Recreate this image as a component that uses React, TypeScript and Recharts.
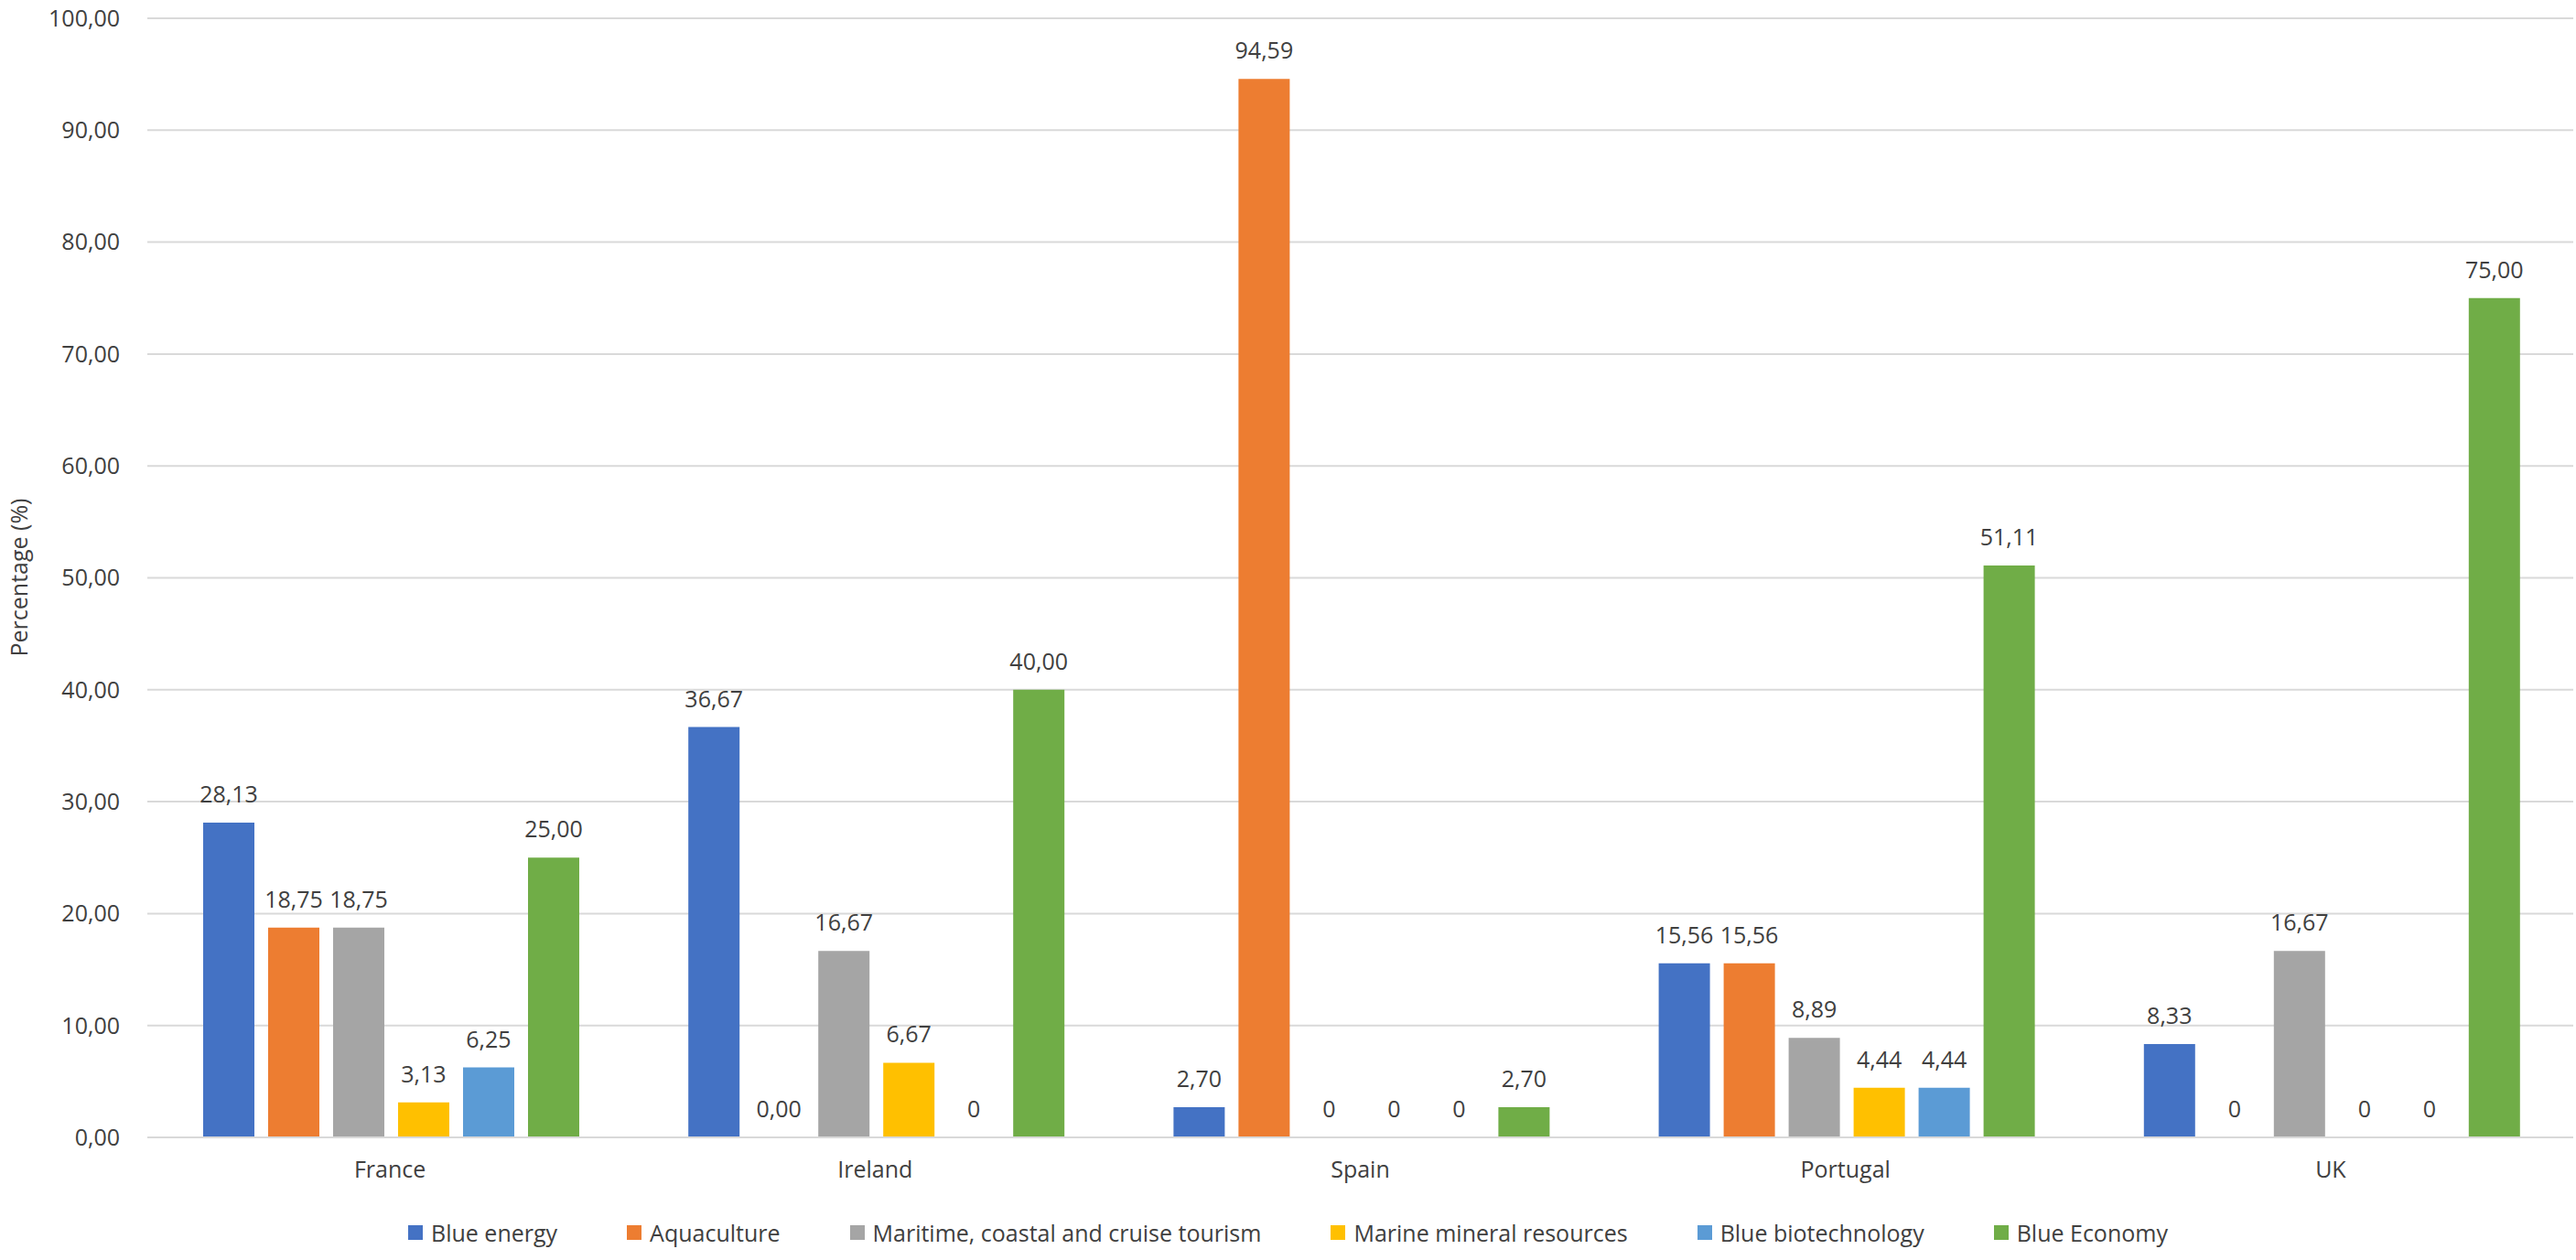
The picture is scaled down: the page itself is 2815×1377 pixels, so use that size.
import React from 'react'
import {
  BarChart,
  Bar,
  XAxis,
  YAxis,
  CartesianGrid,
  Legend,
  LabelList,
} from 'recharts'

const countries = ['France', 'Ireland', 'Spain', 'Portugal', 'UK']

const blueEnergy = [28.13, 36.67, 2.7, 15.56, 8.33]
const aquaculture = [18.75, 0, 94.59, 15.56, 0]
const tourism = [18.75, 16.67, 0, 8.89, 16.67]
const mineral = [3.13, 6.67, 0, 4.44, 0]
const biotech = [6.25, 0, 0, 4.44, 0]
const blueEconomy = [25.0, 40.0, 2.7, 51.11, 75.0]

// labels as printed in the source (some zeros show as "0", one as "0,00")
const blueEnergyLabels = ['28,13', '36,67', '2,70', '15,56', '8,33']
const aquacultureLabels = ['18,75', '0,00', '94,59', '15,56', '0']
const tourismLabels = ['18,75', '16,67', '0', '8,89', '16,67']
const mineralLabels = ['3,13', '6,67', '0', '4,44', '0']
const biotechLabels = ['6,25', '0', '0', '4,44', '0']
const blueEconomyLabels = ['25,00', '40,00', '2,70', '51,11', '75,00']

const yTicks = [0, 10, 20, 30, 40, 50, 60, 70, 80, 90, 100]

const series = [
  { key: 'blueEnergy', name: 'Blue energy', color: '#4472C4', values: blueEnergy, labels: blueEnergyLabels },
  { key: 'aquaculture', name: 'Aquaculture', color: '#ED7D31', values: aquaculture, labels: aquacultureLabels },
  { key: 'tourism', name: 'Maritime, coastal and cruise tourism', color: '#A5A5A5', values: tourism, labels: tourismLabels },
  { key: 'mineral', name: 'Marine mineral resources', color: '#FFC000', values: mineral, labels: mineralLabels },
  { key: 'biotech', name: 'Blue biotechnology', color: '#5B9BD5', values: biotech, labels: biotechLabels },
  { key: 'blueEconomy', name: 'Blue Economy', color: '#70AD47', values: blueEconomy, labels: blueEconomyLabels },
]

const data = countries.map((country, i) => {
  const row: Record<string, string | number> = { country }
  series.forEach((s) => {
    row[s.key] = s.values[i]
    row[s.key + 'Label'] = s.labels[i]
  })
  return row
})

const FONT = '"Open Sans", sans-serif'
const TEXT = '#404040'
const FS = 25

// legend drawn in series order (recharts sorts its payload by name)
const renderLegend = () => (
  <div style={{ display: 'flex', justifyContent: 'center', fontFamily: FONT, fontSize: FS, color: TEXT, lineHeight: '36px' }}>
    {series.map((s, i) => (
      <div key={s.key} style={{ display: 'flex', alignItems: 'center', marginLeft: i === 0 ? 0 : 76 }}>
        <span style={{ width: 16, height: 16, background: s.color, display: 'inline-block', marginRight: 9 }} />
        <span>{s.name}</span>
      </div>
    ))}
  </div>
)

const YLabel = () => (
  <text
    x={20}
    y={631}
    transform="rotate(-90 20 631)"
    textAnchor="middle"
    dominantBaseline="central"
    fill={TEXT}
    fontFamily={FONT}
    fontSize={FS}
  >
    Percentage (%)
  </text>
)

export default function App() {
  return (
    <div style={{ position: 'absolute', left: 0, top: 0, width: 2815, height: 1377, background: '#fff' }}>
      <BarChart
        width={2815}
        height={1377}
        data={data}
        margin={{ top: 20, right: 3, left: 0, bottom: 12 }}
        barCategoryGap={61}
        barGap={15}
      >
        <CartesianGrid vertical={false} stroke="#D9D9D9" strokeWidth={2} />
        <XAxis
          dataKey="country"
          axisLine={{ stroke: '#D9D9D9', strokeWidth: 2 }}
          tickLine={false}
          tick={{ fill: TEXT, fontSize: FS, fontFamily: FONT }}
          tickMargin={20}
          height={86}
        />
        <YAxis
          domain={[0, 100]}
          ticks={yTicks}
          width={161}
          axisLine={false}
          tickLine={false}
          tickMargin={24}
          tick={{ fill: TEXT, fontSize: FS, fontFamily: FONT }}
          tickFormatter={(v: number) => v.toFixed(2).replace('.', ',')}
          label={<YLabel />}
        />
        <Legend
          content={renderLegend}
          verticalAlign="bottom"
          height={36}
          wrapperStyle={{ left: 0, width: 2815, bottom: 12 }}
        />
        {series.map((s) => (
          <Bar
            key={s.key}
            dataKey={s.key}
            name={s.name}
            fill={s.color}
            minPointSize={0.01}
            isAnimationActive={false}
          >
            <LabelList
              dataKey={s.key + 'Label'}
              position="top"
              offset={22}
              fill={TEXT}
              fontSize={FS}
              fontFamily={FONT}
            />
          </Bar>
        ))}
      </BarChart>
    </div>
  )
}
